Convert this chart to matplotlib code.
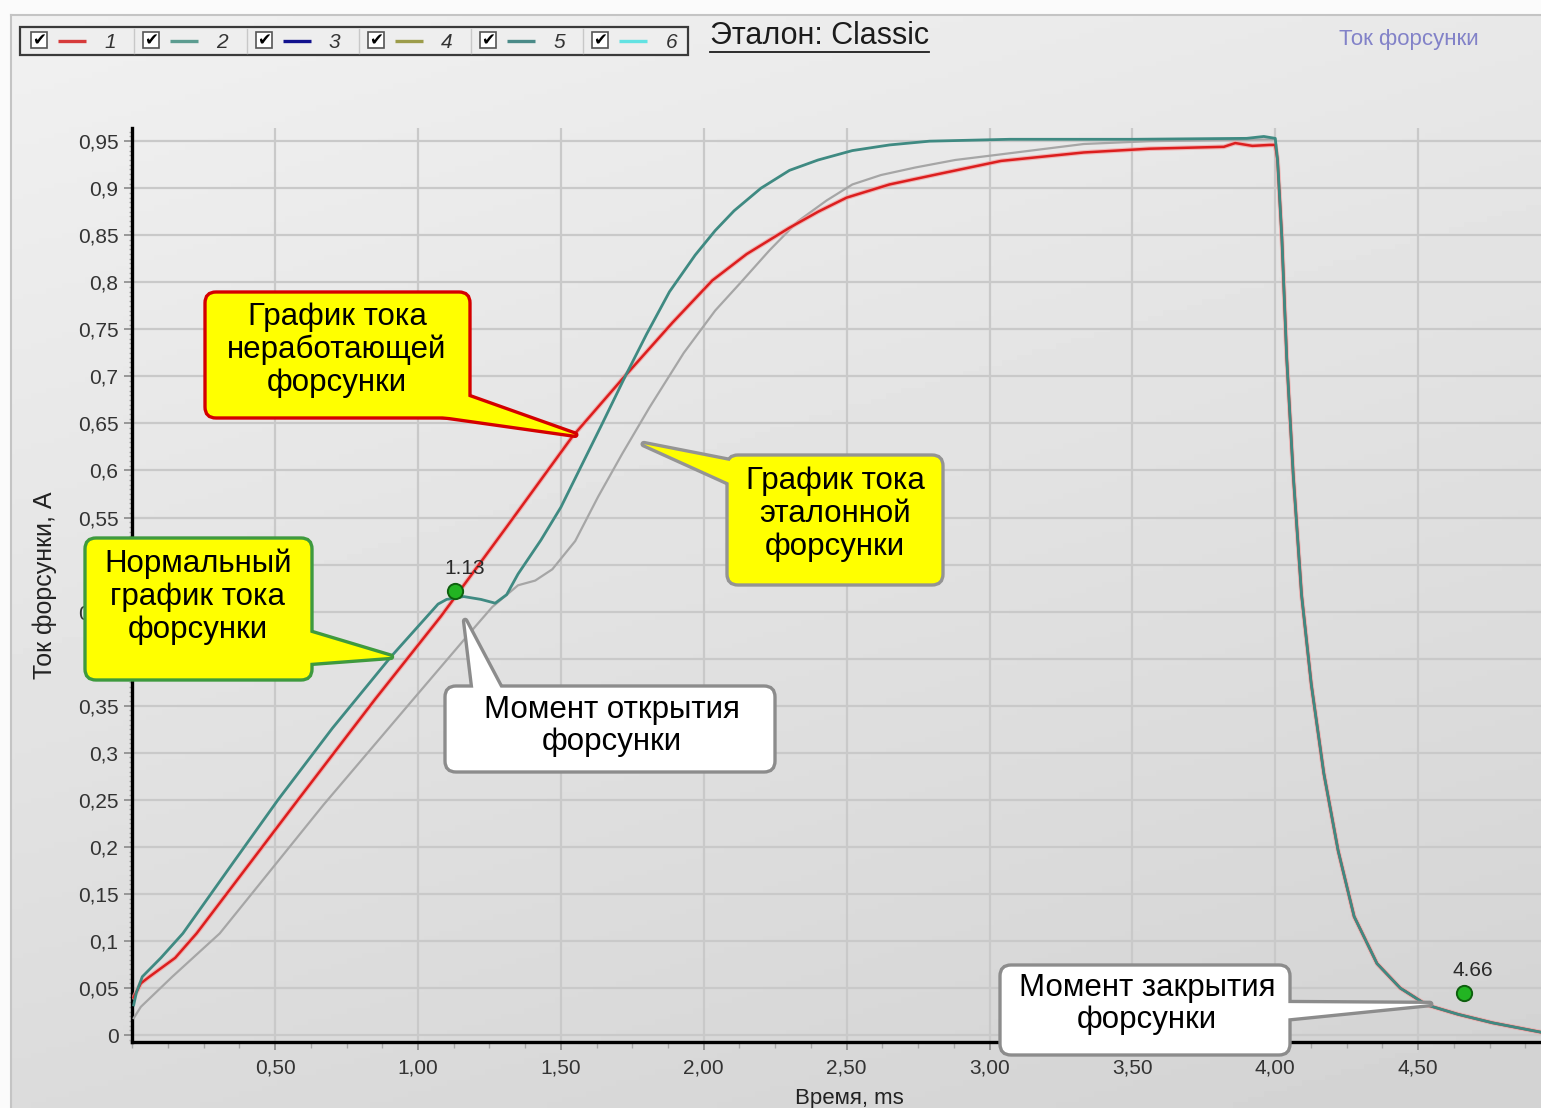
import numpy as np
import matplotlib
matplotlib.use('Agg')
import matplotlib.pyplot as plt
from matplotlib.patches import Polygon, FancyBboxPatch, Rectangle
from matplotlib.ticker import FixedLocator, MultipleLocator, FuncFormatter

plt.rcParams['font.family'] = ['Liberation Sans', 'DejaVu Sans']

W, H = 1541, 1108

# ─── data ───────────────────────────────────────────────────────────────
# current of the faulty injector (red)
t_bad = [0.005, 0.03, 0.06, 0.15, 0.225, 0.40, 0.58, 0.85, 1.08, 1.31, 1.54, 1.72,
         1.89, 2.03, 2.15, 2.30, 2.40, 2.50, 2.65, 2.82, 3.04, 3.33, 3.56, 3.82,
         3.86, 3.92, 3.98, 4.0]
v_bad = [0.040, 0.055, 0.062, 0.082, 0.108, 0.178, 0.250, 0.357, 0.445, 0.540, 0.636, 0.699,
         0.757, 0.802, 0.830, 0.858, 0.875, 0.890, 0.904, 0.915, 0.929, 0.938, 0.942, 0.944,
         0.948, 0.945, 0.946, 0.946]

# current of the normal injector (teal)
t_norm = [0.005, 0.014, 0.035, 0.10, 0.177, 0.35, 0.51, 0.70, 0.905, 1.07, 1.10, 1.16,
          1.22, 1.27, 1.31, 1.35, 1.43, 1.50, 1.57, 1.645, 1.725, 1.80, 1.88, 1.97,
          2.04, 2.106, 2.20, 2.30, 2.40, 2.52, 2.65, 2.79, 3.07, 3.50, 3.90, 3.96, 4.0]
v_norm = [0.032, 0.045, 0.062, 0.082, 0.108, 0.182, 0.250, 0.326, 0.402, 0.458, 0.463, 0.466,
          0.463, 0.459, 0.468, 0.490, 0.526, 0.561, 0.604, 0.650, 0.700, 0.745, 0.790, 0.829,
          0.855, 0.876, 0.900, 0.919, 0.930, 0.940, 0.946, 0.950, 0.952, 0.952, 0.953, 0.955, 0.953]

# reference ("Эталон") injector (grey)
t_ref = [0.005, 0.03, 0.14, 0.306, 0.67, 0.95, 1.20, 1.26, 1.35, 1.41, 1.47, 1.55, 1.63,
         1.715, 1.81, 1.93, 2.04, 2.13, 2.23, 2.33, 2.43, 2.52, 2.62, 2.74, 2.88, 3.04,
         3.33, 3.56, 4.0]
v_ref = [0.018, 0.030, 0.062, 0.108, 0.245, 0.345, 0.434, 0.455, 0.478, 0.483, 0.495, 0.525, 0.572,
         0.618, 0.667, 0.725, 0.770, 0.800, 0.834, 0.865, 0.887, 0.904, 0.914, 0.922, 0.930, 0.936,
         0.947, 0.950, 0.952]

# common decay after switch-off
t_off = [4.008, 4.023, 4.04, 4.063, 4.092, 4.126, 4.17, 4.22, 4.276, 4.356, 4.437, 4.53,
         4.64, 4.76, 4.93]
v_off = [0.930, 0.848, 0.720, 0.595, 0.468, 0.373, 0.278, 0.196, 0.126, 0.076, 0.050, 0.032,
         0.022, 0.013, 0.003]

# cursor markers
mark_t = [1.13, 4.66]
mark_v = [0.472, 0.045]

y_ticks = np.round(np.arange(0, 0.951, 0.05), 2)
y_hidden = [0.4, 0.5]          # fully covered by the green callout in the screenshot
x_ticks = np.round(np.arange(0.5, 4.51, 0.5), 2)

legend_ids = ['1', '2', '3', '4', '5', '6']
legend_cols = ['#d63a3a', '#5c9c90', '#12128e', '#9c9c4a', '#4a8a88', '#62e2e2']


def y_fmt(v, p):
    if any(abs(v - h) < 1e-6 for h in y_hidden):
        return ''
    return f"{v:.2f}".rstrip('0').rstrip('.').replace('.', ',')


# ─── figure ─────────────────────────────────────────────────────────────
fig = plt.figure(figsize=(W / 100, H / 100), dpi=100)

bg = fig.add_axes([0, 0, 1, 1], zorder=-10)
gy, gx = np.mgrid[0:1:200j, 0:1:200j]
grad = 0.945 - 0.085 * gy - 0.035 * gx
bg.imshow(grad, cmap='gray', vmin=0, vmax=1, extent=(0, W, H, 0), aspect='auto')
bg.add_patch(Rectangle((0, 0), W, 15, fc='#fbfbfb', ec='none'))
bg.add_patch(Rectangle((0, 0), 11, H, fc='#fbfbfb', ec='none'))
bg.plot([11, W], [15, 15], color='#c4c4c4', lw=1.5)
bg.plot([11, 11], [15, H], color='#c4c4c4', lw=1.5)
bg.set_xlim(0, W)
bg.set_ylim(H, 0)
bg.axis('off')

ax_l, ax_b, ax_t = 132.3, 1042, 128
ax = fig.add_axes([ax_l / W, 1 - ax_b / H, (W - ax_l) / W, (ax_b - ax_t) / H])
ax.set_facecolor('none')
ax.set_xlim(0, 4.93)
ax.set_ylim(-0.0074, 0.964)

ax.plot(t_ref + t_off, v_ref + v_off, color='#a6a6a6', lw=1.6, zorder=3)
ax.plot(t_bad + t_off, v_bad + v_off, color='#f3a0a0', lw=3.4, zorder=3.5, alpha=0.7)
ax.plot(t_bad + t_off, v_bad + v_off, color='#dc1e1e', lw=1.8, zorder=4)
ax.plot(t_norm + t_off, v_norm + v_off, color='#3f8a82', lw=2.0, zorder=5)

ax.plot(mark_t, mark_v, 'o', ms=11, mfc='#22b422', mec='#0f5f0f', mew=1.4, zorder=7)
for t, v in zip(mark_t, mark_v):
    ax.annotate(f"{t:.2f}", (t, v), xytext=(6.5, 16), textcoords='offset points',
                ha='center', va='center', fontsize=15, color='#2a2a2a', zorder=7)

ax.yaxis.set_major_locator(FixedLocator(y_ticks))
ax.yaxis.set_minor_locator(MultipleLocator(0.005))
ax.xaxis.set_major_locator(FixedLocator(x_ticks))
ax.xaxis.set_minor_locator(MultipleLocator(0.125))
ax.yaxis.set_major_formatter(FuncFormatter(y_fmt))
ax.xaxis.set_major_formatter(FuncFormatter(lambda v, p: f"{v:.2f}".replace('.', ',')))

ax.grid(True, which='major', color='#c9c9c9', lw=1.6)
ax.set_axisbelow(True)
for s in ['top', 'right']:
    ax.spines[s].set_visible(False)
for s in ['left', 'bottom']:
    ax.spines[s].set_color('black')
    ax.spines[s].set_linewidth(2.4)
ax.tick_params(axis='y', which='major', length=6, width=1.2, color='#8a8a8a', pad=4,
               labelsize=15, labelcolor='#333333')
ax.tick_params(axis='y', which='minor', length=2.5, width=1, color='#a8a8a8')
ax.tick_params(axis='x', which='major', length=6, width=1.2, color='#8a8a8a', pad=6,
               labelsize=15, labelcolor='#333333')
ax.tick_params(axis='x', which='minor', length=4, width=1, color='#a8a8a8')

ax.set_ylabel('Ток форсунки, А', fontsize=18, color='#222222')
ax.yaxis.set_label_coords(-0.0625, 0.5)
ax.yaxis.label.set_va('center')
ax.set_xlabel('Время, ms', fontsize=16, color='#222222')
ax.xaxis.set_label_coords(0.509, -0.0615)
ax.xaxis.label.set_va('center')

# ─── overlay in screen pixels (top-left origin) ────────────────────────
ov = fig.add_axes([0, 0, 1, 1], zorder=5)
ov.set_xlim(0, W)
ov.set_ylim(H, 0)
ov.axis('off')
ov.patch.set_alpha(0)


def to_px(t, v):
    dx, dy = ax.transData.transform((t, v))
    return dx, H - dy


def callout(box, base, tip, face, edge, text, txt_xy, lw=2.4, r=11):
    x0, y0, x1, y1 = box
    tx, ty = to_px(*tip)
    wedge = [base[0], (tx, ty), base[1]]
    ov.add_patch(Polygon(wedge, closed=True, fc=face, ec=edge, lw=lw * 2,
                         joinstyle='round', zorder=10))
    ov.add_patch(FancyBboxPatch((x0 + r, y0 + r), x1 - x0 - 2 * r, y1 - y0 - 2 * r,
                                boxstyle=f"round,pad={r},rounding_size={r}",
                                fc=face, ec=edge, lw=lw, zorder=11))
    ov.add_patch(Polygon(wedge, closed=True, fc=face, ec='none', zorder=12))
    ov.text(txt_xy[0], txt_xy[1], text, ha='center', va='center', fontsize=22.5,
            linespacing=1.12, color='black', zorder=13)


callout((205, 292, 470, 418), [(455, 392), (400, 410)], (1.55, 0.638),
        '#ffff00', '#d40000', 'График тока\nнеработающей\nфорсунки', (337, 350))
callout((85, 538, 312, 680), [(295, 628), (295, 664)], (0.905, 0.402),
        '#ffff00', '#3e9a3e', 'Нормальный\nграфик тока\nфорсунки', (198, 597))
callout((445, 686, 775, 772), [(475, 702), (508, 702)], (1.165, 0.44),
        'white', '#8c8c8c', 'Момент открытия\nфорсунки', (612, 726))
callout((727, 455, 943, 585), [(745, 464), (745, 490)], (1.79, 0.628),
        '#ffff00', '#949494', 'График тока\nэталонной\nфорсунки', (835, 514))
callout((1000, 965, 1290, 1055), [(1272, 1003), (1272, 1020)], (4.542, 0.033),
        'white', '#8c8c8c', 'Момент закрытия\nфорсунки', (1147, 1004))

# legend strip
ov.add_patch(Rectangle((20, 27), 668, 28, fc='#eeeeee', ec='#3a3a3a', lw=1.6, zorder=2))
step = 112.3
for i, (lab, col) in enumerate(zip(legend_ids, legend_cols)):
    x = 31 + step * i
    if i > 0:
        ov.plot([x - 9, x - 9], [29, 53], color='#c8c8c8', lw=1, zorder=3)
    ov.add_patch(Rectangle((x, 32), 16, 16, fc='white', ec='#555555', lw=1.2, zorder=3))
    ov.text(x + 8, 40.5, '✔', family='DejaVu Sans', fontsize=12, fontweight='bold',
            ha='center', va='center', color='black', zorder=4)
    ov.plot([x + 27, x + 55], [41, 41], color=col, lw=2.4, solid_capstyle='butt', zorder=3)
    ov.text(x + 79, 43, lab, fontsize=15, style='italic', ha='center', va='center',
            color='#333333', zorder=3)

title = ov.text(710, 36, 'Эталон: Classic', fontsize=22, ha='left', va='center',
                color='#1c1c1c')
fig.canvas.draw()
bb = title.get_window_extent(fig.canvas.get_renderer())
ov.plot([bb.x0, bb.x1], [52, 52], color='#1c1c1c', lw=1.3)

ov.text(1409, 40, 'Ток форсунки', fontsize=16, ha='center', va='center', color='#8282c8')

fig.savefig('out.png', dpi=100)
